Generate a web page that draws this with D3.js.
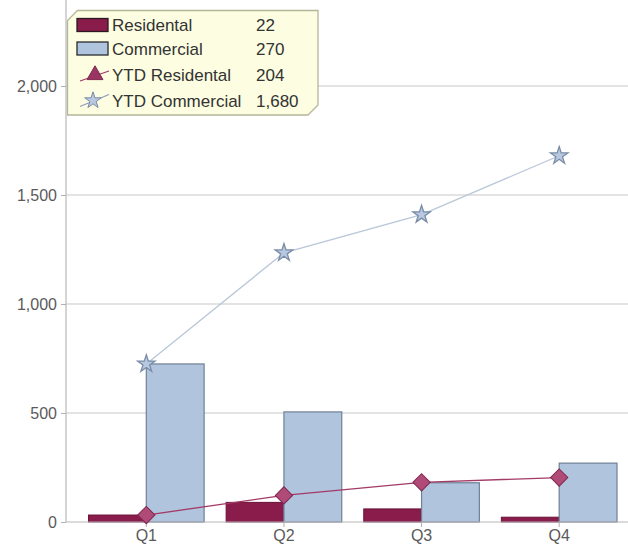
<!DOCTYPE html>
<html><head><meta charset="utf-8">
<script src="https://cdn.jsdelivr.net/npm/d3@7"></script>
<style>body{margin:0;background:#fff;}svg{display:block;font-family:"Liberation Sans",Arial,sans-serif;}</style>
</head><body><svg id="c" width="628" height="548"></svg>
<script>
const categories = ["Q1","Q2","Q3","Q4"];
const residental = [32, 90, 60, 22];
const commercial = [725, 505, 180, 270];
const ytdResidental = [32, 122, 182, 204];
const ytdCommercial = [725, 1235, 1410, 1680];
const yTicks = [0, 500, 1000, 1500, 2000];
const legendNames = ["Residental","Commercial","YTD Residental","YTD Commercial"];
const legendValues = ["22","270","204","1,680"];

const svg = d3.select("#c");
const axisX = 66;
const x = d3.scaleBand().domain(categories).range([77.5, 628]).padding(0);
const y = d3.scaleLinear().domain([0, 2000]).range([522, 86]);
const fmt = d3.format(",");
const barW = x.bandwidth() * 0.42;

// gridlines
svg.append("g").selectAll("line").data(yTicks.filter(d => d > 0)).join("line")
  .attr("x1", axisX).attr("x2", 628).attr("y1", d => y(d)).attr("y2", d => y(d))
  .attr("stroke", "#c8c8c8").attr("stroke-width", 1.2);

// bars
const g = svg.append("g");
g.selectAll("rect.res").data(categories).join("rect")
  .attr("x", d => x(d) + x.bandwidth()/2 - barW).attr("width", barW)
  .attr("y", (d,i) => y(residental[i])).attr("height", (d,i) => y(0) - y(residental[i]))
  .attr("fill", "#8a1c4c").attr("stroke", "#6a1238").attr("stroke-width", 1);
g.selectAll("rect.com").data(categories).join("rect")
  .attr("x", d => x(d) + x.bandwidth()/2).attr("width", barW)
  .attr("y", (d,i) => y(commercial[i])).attr("height", (d,i) => y(0) - y(commercial[i]))
  .attr("fill", "#b0c4de").attr("stroke", "#6f8195").attr("stroke-width", 1.2);

// axes
const yAxis = d3.axisLeft(y).tickValues(yTicks).tickFormat(fmt).tickSize(5).tickPadding(4);
const ya = svg.append("g").attr("transform", `translate(${axisX},0)`).call(yAxis);
ya.select(".domain").remove();
ya.selectAll(".tick line").attr("stroke", "#b0b0b0");
ya.selectAll("text").attr("font-size", 16).attr("fill", "#5a5a5a");
svg.append("line").attr("x1", axisX).attr("x2", axisX).attr("y1", 0).attr("y2", y(0))
  .attr("stroke", "#b8b8b8").attr("stroke-width", 1.2);

const xAxis = d3.axisBottom(x).tickSize(5).tickPadding(3);
const xa = svg.append("g").attr("transform", `translate(0,${y(0)})`).call(xAxis);
xa.select(".domain").remove();
xa.selectAll(".tick line").attr("stroke", "#b0b0b0");
xa.selectAll("text").attr("font-size", 16).attr("fill", "#5a5a5a");
svg.append("line").attr("x1", axisX).attr("x2", 628).attr("y1", y(0)).attr("y2", y(0))
  .attr("stroke", "#b8b8b8").attr("stroke-width", 1.2);

// lines
const cx = d => x(d) + x.bandwidth()/2;
const lineC = d3.line().x((d,i) => cx(categories[i])).y(d => y(d));
svg.append("path").datum(ytdCommercial).attr("d", lineC).attr("fill", "none")
  .attr("stroke", "#b9c7d9").attr("stroke-width", 1.3);
svg.append("path").datum(ytdResidental).attr("d", lineC).attr("fill", "none")
  .attr("stroke", "#a23a66").attr("stroke-width", 1.3);

const star = d3.symbol().type(d3.symbolStar).size(95);
const diamond = d3.symbol().type(d3.symbolSquare).size(150);
svg.append("g").selectAll("path").data(ytdCommercial).join("path")
  .attr("d", star).attr("transform", (d,i) => `translate(${cx(categories[i])},${y(d)})`)
  .attr("fill", "#b7c8e0").attr("stroke", "#7a8ca6").attr("stroke-width", 1.3);
svg.append("g").selectAll("path").data(ytdResidental).join("path")
  .attr("d", diamond).attr("transform", (d,i) => `translate(${cx(categories[i])},${y(d)}) rotate(45)`)
  .attr("fill", "#b04a76").attr("stroke", "#7e2a50").attr("stroke-width", 1);

// legend
const L = {x0: 67.5, y0: 10.5, x1: 318, y1: 115, c: 10};
svg.append("path")
  .attr("d", `M${L.x0+L.c},${L.y0} L${L.x1},${L.y0} L${L.x1},${L.y1-L.c} L${L.x1-L.c},${L.y1} L${L.x0},${L.y1} L${L.x0},${L.y0+L.c} Z`)
  .attr("fill", "#fdfde1").attr("stroke", "#b5b59a").attr("stroke-width", 1.3);
const rowY = [25, 48.5, 75, 100.5];
const lg = svg.append("g");
lg.append("rect").attr("x", 77).attr("y", rowY[0]-6.5).attr("width", 31).attr("height", 13)
  .attr("fill", "#8a1c4c").attr("stroke", "#2a1a20").attr("stroke-width", 1.3);
lg.append("rect").attr("x", 77).attr("y", rowY[1]-6.5).attr("width", 31).attr("height", 13)
  .attr("fill", "#b0c4de").attr("stroke", "#2a2a30").attr("stroke-width", 1.3);
lg.append("line").attr("x1", 80).attr("y1", rowY[2]+6).attr("x2", 109).attr("y2", rowY[2]-4)
  .attr("stroke", "#a23a66").attr("stroke-width", 1.3);
lg.append("path").attr("d", d3.symbol().type(d3.symbolTriangle).size(110))
  .attr("transform", `translate(95,${rowY[2]})`).attr("fill", "#9a3462").attr("stroke", "#7e2a50");
lg.append("line").attr("x1", 80).attr("y1", rowY[3]+6).attr("x2", 109).attr("y2", rowY[3]-6)
  .attr("stroke", "#8e9ebb").attr("stroke-width", 1.3);
lg.append("path").attr("d", d3.symbol().type(d3.symbolStar).size(85))
  .attr("transform", `translate(93,${rowY[3]})`).attr("fill", "#b7c8e0").attr("stroke", "#7a8ca6");
lg.selectAll("text.n").data(legendNames).join("text")
  .attr("x", 112).attr("y", (d,i) => rowY[i]).attr("dy", "0.36em")
  .attr("font-size", 17).attr("fill", "#333").text(d => d);
lg.selectAll("text.v").data(legendValues).join("text")
  .attr("x", 256).attr("y", (d,i) => rowY[i]).attr("dy", "0.36em")
  .attr("font-size", 17).attr("fill", "#333").text(d => d);
</script></body></html>
